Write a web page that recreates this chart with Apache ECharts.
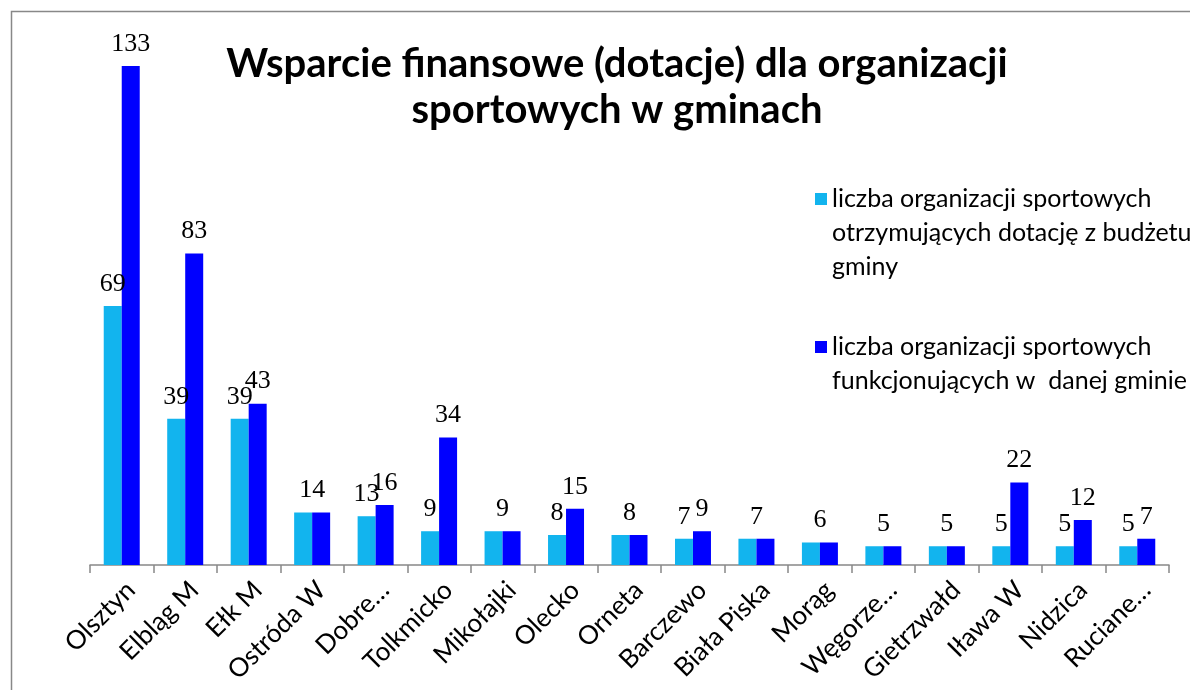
<!DOCTYPE html>
<html>
<head>
<meta charset="utf-8">
<script src="https://cdn.jsdelivr.net/npm/echarts@6/dist/echarts.min.js"></script>
<style>
  html, body { margin: 0; padding: 0; background: #fff; }
  #chart { width: 1190px; height: 690px; }
</style>
</head>
<body>
<div id="chart"></div>
<script>
// gminy
var gminy = ["Olsztyn", "Elbląg M", "Ełk M", "Ostróda W", "Dobre…", "Tolkmicko", "Mikołajki", "Olecko",
  "Orneta", "Barczewo", "Biała Piska", "Morąg", "Węgorze…", "Gietrzwałd", "Iława W", "Nidzica", "Ruciane…"];
// liczba organizacji otrzymujących dotację
var dotowane = [69, 39, 39, 14, 13, 9, 9, 8, 8, 7, 7, 6, 5, 5, 5, 5, 5];
// liczba organizacji funkcjonujących w gminie
var wszystkie = [133, 83, 43, 14, 16, 34, 9, 15, 8, 9, 7, 6, 5, 5, 22, 12, 7];

var nazwa1 = "liczba organizacji sportowych\notrzymujących dotację z budżetu\ngminy";
var nazwa2 = "liczba organizacji sportowych\nfunkcjonujących w  danej gminie";

var barW = 18;
var lh = 34; // wysokość linii legendy
// gdy wartości równe - jedna etykieta nad parą słupków
var dane1 = dotowane.map(function (v, i) {
  return v === wszystkie[i] ? { value: v, label: { offset: [barW / 2, 0] } } : v;
});
var dane2 = wszystkie.map(function (v, i) {
  return v === dotowane[i] ? { value: v, label: { show: false } } : v;
});

// ikonka legendy przy pierwszej linii tekstu (kwadrat u góry wysokiego pola)
function ikona(linie) {
  var h = linie * lh;
  var y = lh / 2 - 6;
  return "path://M0,0h0.01v0.01h-0.01z M0," + y + "h12v12h-12z M0," + h + "h0.01v-0.01h-0.01z";
}

var myChart = echarts.init(document.getElementById("chart"));
var labelStyle = {
  show: true,
  position: "top",
  distance: 9,
  color: "#000",
  fontFamily: "Liberation Serif",
  fontSize: 26
};
var legendText = {
  color: "#000",
  fontFamily: "Lato",
  fontSize: 25,
  lineHeight: lh
};
var option = {
  backgroundColor: "#fff",
  animation: false,
  title: {
    text: "Wsparcie finansowe (dotacje) dla organizacji\nsportowych w gminach",
    left: 612,
    top: 36,
    textAlign: "center",
    textStyle: {
      fontFamily: "Lato",
      fontWeight: "bold",
      fontSize: 40,
      lineHeight: 46,
      color: "#000"
    }
  },
  legend: [
    {
      orient: "vertical",
      left: 815,
      top: 182,
      padding: 0,
      itemWidth: 12,
      itemHeight: 3 * lh,
      itemGap: 8,
      data: [{ name: nazwa1, icon: ikona(3) }],
      textStyle: legendText
    },
    {
      orient: "vertical",
      left: 815,
      top: 330,
      padding: 0,
      itemWidth: 12,
      itemHeight: 2 * lh,
      itemGap: 8,
      data: [{ name: nazwa2, icon: ikona(2) }],
      textStyle: legendText
    }
  ],
  grid: {
    left: 90,
    right: 21,
    top: 66,
    bottom: 125,
    containLabel: false
  },
  xAxis: {
    type: "category",
    data: gminy,
    axisLine: { lineStyle: { color: "#888", width: 1.5 } },
    axisTick: { show: true, length: 8, lineStyle: { color: "#888", width: 1.5 } },
    axisLabel: {
      rotate: 45,
      interval: 0,
      margin: 30,
      padding: [0, -13, 0, 0],
      color: "#000",
      fontFamily: "Lato",
      fontSize: 26
    }
  },
  yAxis: {
    type: "value",
    min: 0,
    max: 133,
    show: false,
    splitLine: { show: false }
  },
  graphic: [
    {
      type: "rect",
      shape: { x: 11.5, y: 11.5, width: 1200, height: 700 },
      style: { fill: "none", stroke: "#888", lineWidth: 1.5 },
      silent: true
    }
  ],
  series: [
    {
      name: nazwa1,
      type: "bar",
      data: dane1,
      barWidth: barW,
      barGap: "0%",
      itemStyle: { color: "#12b4ee" },
      label: labelStyle
    },
    {
      name: nazwa2,
      type: "bar",
      data: dane2,
      barWidth: barW,
      itemStyle: { color: "#0000ff" },
      label: labelStyle
    }
  ]
};
myChart.setOption(option);
</script>
</body>
</html>
